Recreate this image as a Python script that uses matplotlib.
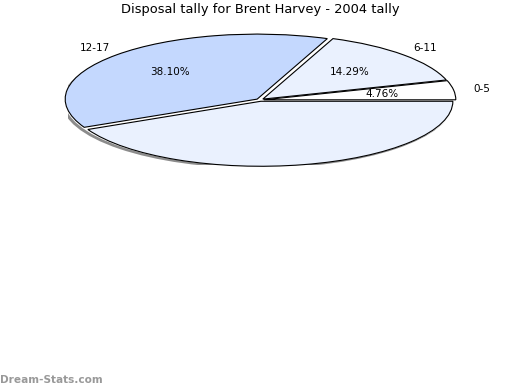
import matplotlib
matplotlib.use("Agg")
import matplotlib.pyplot as plt
from matplotlib.patches import Ellipse

# Disposal counts per band (out of 21 games)
labels = ["0-5", "6-11", "12-17", ""]
counts = [1, 3, 8, 9]
colors = ["#ffffff", "#eaf1fe", "#c4d8fe", "#eaf1fe"]
explode = [0.02, 0.02, 0.02, 0.02]

fig = plt.figure(figsize=(5.2, 3.9), dpi=100)
W, H = 520, 390
cx, cy, rx, ry = 260, 100, 192, 65
ax = fig.add_axes([(cx - rx) / W, 1 - (cy + ry) / H, 2 * rx / W, 2 * ry / H])

# drop shadow under the pie, white base so gaps stay white
ax.add_patch(Ellipse((-0.012, -0.03), 2.04, 2.04, facecolor="#8c8c8c",
                     edgecolor="none", zorder=0))
ax.add_patch(Ellipse((0, 0), 2.04, 2.04, facecolor="white",
                     edgecolor="none", zorder=0.5))

wedges, texts, autotexts = ax.pie(
    counts, labels=labels, colors=colors, explode=explode,
    startangle=0, counterclock=True, autopct="%.2f%%",
    labeldistance=1.15, pctdistance=0.62,
    wedgeprops=dict(edgecolor="black", linewidth=0.8),
    textprops=dict(fontsize=7.5),
)
autotexts[3].set_text("")
for t in texts + autotexts:
    t.set_ha("center")

ax.set_aspect("auto")
ax.set_xlim(-1, 1)
ax.set_ylim(-1, 1)
ax.axis("off")

fig.text(0.5, 1 - 10 / H, "Disposal tally for Brent Harvey - 2004 tally",
         ha="center", va="center", fontsize=9.4)
fig.text(0.0, 1 - 380 / H, "Dream-Stats.com", ha="left", va="center",
         fontsize=7.6, color="#999999", fontweight="bold")

fig.savefig("out.png", dpi=100)
